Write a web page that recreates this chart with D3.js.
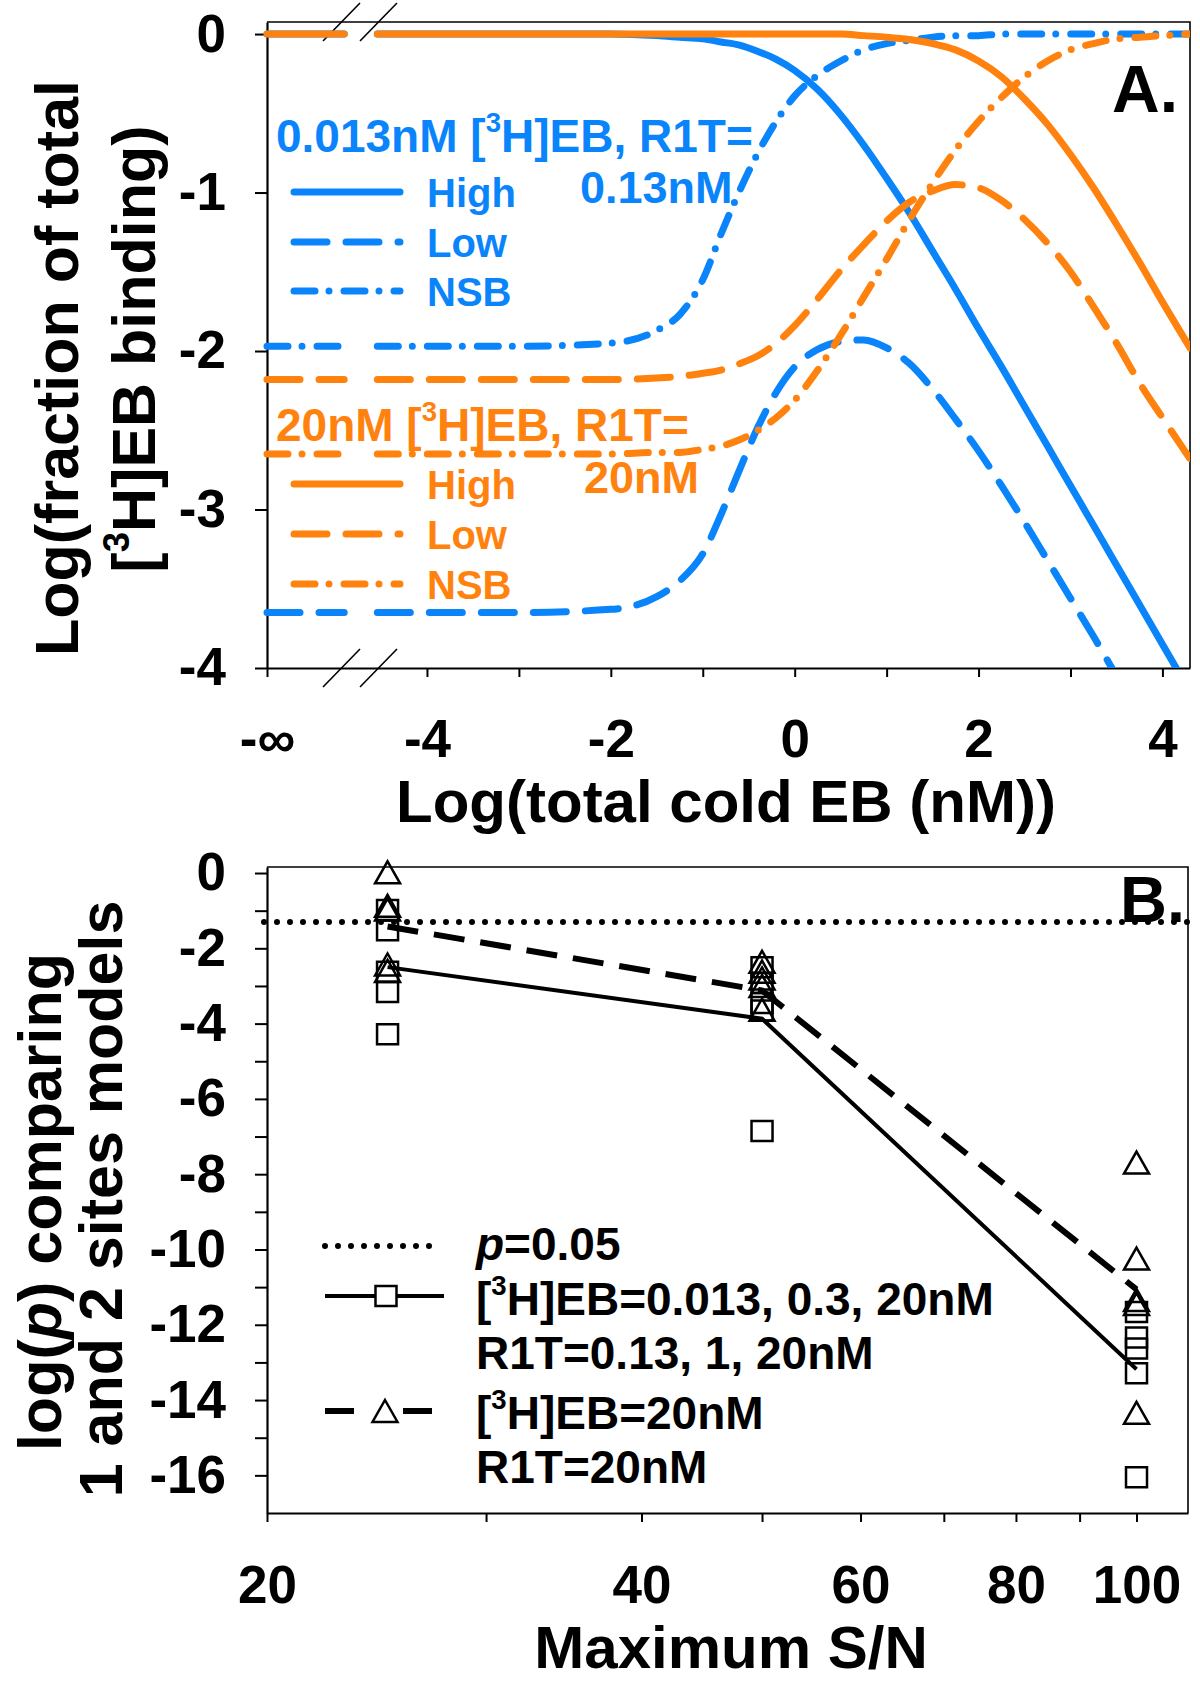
<!DOCTYPE html>
<html>
<head>
<meta charset="utf-8">
<script src="https://cdn.jsdelivr.net/npm/d3@7"></script>
<style>
  body { margin: 0; background: #fff; }
  text { font-family: "Liberation Sans", Arial, sans-serif; font-weight: bold; }
</style>
</head>
<body>
<div id="chart"></div>
<script>
// ---------- Panel A data : log(total cold EB) grid and curves ----------
const logEB = [-4.5,-3,-2,-1.5,-1.25,-1,-0.8,-0.6,-0.4,-0.2,0,0.25,0.5,0.75,1,1.25,1.5,1.75,2,2.25,2.5,2.75,3,3.25,3.5,3.75,4,4.3];

const blueHigh = [0,0,0,-0.01,-0.02,-0.03,-0.05,-0.07,-0.11,-0.16,-0.23,-0.35,-0.51,-0.7,-0.91,-1.13,-1.37,-1.61,-1.86,-2.1,-2.35,-2.6,-2.85,-3.1,-3.35,-3.6,-3.85,-4.15];
const blueLow  = [-3.65,-3.65,-3.63,-3.55,-3.45,-3.28,-3.03,-2.75,-2.48,-2.26,-2.1,-1.99,-1.94,-1.93,-1.98,-2.08,-2.24,-2.43,-2.63,-2.85,-3.08,-3.32,-3.56,-3.8,-4.05,-4.3,-4.55,-4.85];
const blueNSB  = [-1.97,-1.97,-1.95,-1.87,-1.77,-1.55,-1.26,-0.99,-0.75,-0.55,-0.39,-0.26,-0.17,-0.1,-0.06,-0.04,-0.02,-0.01,-0.01,0,0,0,0,0,0,0,0,0];

const orangeHigh = [0,0,0,0,0,0,0,0,0,0,0,0,0,-0.01,-0.02,-0.035,-0.06,-0.1,-0.17,-0.27,-0.41,-0.57,-0.76,-0.97,-1.2,-1.44,-1.69,-1.98];
const orangeLow  = [-2.18,-2.18,-2.18,-2.17,-2.16,-2.14,-2.12,-2.08,-2.03,-1.95,-1.84,-1.67,-1.49,-1.33,-1.18,-1.06,-0.99,-0.95,-0.97,-1.05,-1.17,-1.32,-1.5,-1.72,-1.95,-2.2,-2.42,-2.68];
const orangeNSB  = [-2.65,-2.65,-2.65,-2.64,-2.64,-2.62,-2.6,-2.56,-2.5,-2.42,-2.31,-2.12,-1.9,-1.66,-1.42,-1.17,-0.94,-0.73,-0.55,-0.4,-0.27,-0.17,-0.1,-0.06,-0.03,-0.02,-0.01,0];

const xTicksA  = [-4,-3,-2,-1,0,1,2,3,4];
const xLabelsA = ["-4","","-2","","0","","2","","4"];
const infLabel = "-\u221E";
const yTicksA  = [0,-1,-2,-3,-4];

// ---------- Panel B data : max S/N vs log(p) ----------
const maxSN = [25, 50, 100];
const squaresB = [
  [-0.98,-1.52,-2.62,-3.16,-4.28],
  [-2.5,-2.92,-3.45,-3.65,-6.85],
  [-11.66,-12.34,-12.63,-13.29,-16.05]
];
const trianglesB = [
  [0.02,-0.87,-0.97,-2.43,-2.6],
  [-2.36,-2.62,-2.8,-3.0,-3.63],
  [-7.69,-10.24,-11.34,-11.45,-14.34]
];
const lineSquares   = [-2.5,-3.87,-13.18];
const lineTriangles = [-1.42,-3.12,-11.06];
const pCut = Math.log10(0.05);

const xTicksB  = [20,30,40,50,60,70,80,90,100];
const xLabelsB = ["20","","40","","60","","80","","100"];
const yTicksB  = [0,-1,-2,-3,-4,-5,-6,-7,-8,-9,-10,-11,-12,-13,-14,-15,-16];

const BLUE = "#0a84fb", ORANGE = "#ff820e";

const svg = d3.select("#chart").append("svg")
  .attr("width", 1200).attr("height", 1681)
  .style("background", "#fff");

// ================= PANEL A =================
const INF = -5.74;            // where "-inf" sits on the linear scale
const gapL = -4.9, gapR = -4.54;
const xA = d3.scaleLinear().domain([INF, 4.3]).range([267, 1190]);
const yA = d3.scaleLinear().domain([-4, 0.076]).range([668, 22]);

const gA = svg.append("g");

svg.append("defs").append("clipPath").attr("id", "clipA")
  .append("rect").attr("x", 255).attr("y", 10).attr("width", 1190 - 255).attr("height", 668 - 10);

// frame top/right
gA.append("path")
  .attr("d", `M${xA(INF)},${yA(0.076)}H${xA(4.3)}V${yA(-4)}`)
  .attr("fill", "none").attr("stroke", "#000").attr("stroke-width", 1.6);

// axes
const axA_y = gA.append("g").attr("transform", `translate(${xA(INF)},0)`)
  .call(d3.axisLeft(yA).tickValues(yTicksA).tickFormat(d => String(d)).tickSize(12).tickSizeOuter(0).tickPadding(29));
const axA_x = gA.append("g").attr("transform", `translate(0,${yA(-4)})`)
  .call(d3.axisBottom(xA).tickValues([INF].concat(xTicksA))
    .tickFormat((d, i) => i === 0 ? infLabel : xLabelsA[i - 1]).tickSize(9).tickSizeOuter(0));
[axA_y, axA_x].forEach(ax => {
  ax.select(".domain").attr("stroke-width", 2.2);
  ax.selectAll(".tick line").attr("stroke-width", 2);
  ax.selectAll("text").attr("fill", "#000").style("font-size", "53px");
});
axA_x.selectAll("text").attr("y", 89).attr("dy", 0);

// break marks
[323, 360].forEach(x0 => {
  [yA(0.076), yA(-4)].forEach(yc => {
    gA.append("line").attr("x1", x0).attr("y1", yc + 19).attr("x2", x0 + 37).attr("y2", yc - 19)
      .attr("stroke", "#000").attr("stroke-width", 1.6);
  });
});

// curves
const DASH_LOW = "33,19", DASH_NSB = "21,14,0,15";
const curvesA = [
  { vals: blueLow, color: BLUE, dash: DASH_LOW },
  { vals: blueNSB, color: BLUE, dash: DASH_NSB },
  { vals: blueHigh, color: BLUE, dash: null },
  { vals: orangeLow, color: ORANGE, dash: DASH_LOW },
  { vals: orangeNSB, color: ORANGE, dash: DASH_NSB },
  { vals: orangeHigh, color: ORANGE, dash: null }
];
const lineA = d3.line().x(d => xA(d[0])).y(d => yA(d[1])).curve(d3.curveMonotoneX);
const plotA = gA.append("g").attr("clip-path", "url(#clipA)");
curvesA.forEach(c => {
  const pts = logEB.map((lx, i) => [lx, c.vals[i]]);
  // segment at -inf, before the axis break
  plotA.append("path").datum([[INF, c.vals[0]], [gapL, c.vals[0]]])
    .attr("d", lineA).attr("fill", "none").attr("stroke", c.color).attr("stroke-width", 7)
    .attr("stroke-linecap", "round").attr("stroke-dasharray", c.dash);
  plotA.append("path").datum([[gapR, c.vals[0]]].concat(pts))
    .attr("d", lineA).attr("fill", "none").attr("stroke", c.color).attr("stroke-width", 7)
    .attr("stroke-linecap", "round").attr("stroke-dasharray", c.dash);
});

// legend A
function h3Text(sel, before, after) {
  sel.append("tspan").text(before + "[");
  sel.append("tspan").text("3").style("font-size", "0.6em").attr("dy", "-0.72em");
  sel.append("tspan").text("H]" + after).attr("dy", "0.43em");
}
const legA = [
  { color: BLUE, title: ["0.013nM ", "EB, R1T="], second: "0.13nM", ty: 152, sx: 580, sy: 203, rows: [207, 257, 306] },
  { color: ORANGE, title: ["20nM ", "EB, R1T="], second: "20nM", ty: 441, sx: 584, sy: 493, rows: [499, 549, 599] }
];
const rowNames = ["High", "Low", "NSB"];
const rowDash = [null, DASH_LOW, DASH_NSB];
legA.forEach(L => {
  const t = gA.append("text").attr("x", 276).attr("y", L.ty).attr("fill", L.color).style("font-size", "46px");
  h3Text(t, L.title[0], L.title[1]);
  gA.append("text").attr("x", L.sx).attr("y", L.sy).attr("fill", L.color).style("font-size", "45px").text(L.second);
  L.rows.forEach((ry, i) => {
    gA.append("line").attr("x1", 294).attr("x2", 400).attr("y1", ry - 15).attr("y2", ry - 15)
      .attr("stroke", L.color).attr("stroke-width", 7).attr("stroke-linecap", "round")
      .attr("stroke-dasharray", rowDash[i]);
    gA.append("text").attr("x", 427).attr("y", ry).attr("fill", L.color).style("font-size", "40px").text(rowNames[i]);
  });
});

gA.append("text").attr("x", 1178).attr("y", 112).attr("text-anchor", "end").style("font-size", "66px").text("A.");

// axis titles A
gA.append("text").attr("x", 726).attr("y", 822).attr("text-anchor", "middle").style("font-size", "60px")
  .text("Log(total cold EB (nM))");
gA.append("text").attr("transform", "translate(78,368) rotate(-90)").attr("text-anchor", "middle")
  .style("font-size", "61px").text("Log(fraction of total");
const ytA2 = gA.append("text").attr("transform", "translate(155,349) rotate(-90)").attr("text-anchor", "middle")
  .style("font-size", "61px");
h3Text(ytA2, "", "EB binding)");

// ================= PANEL B =================
const xB = d3.scaleLog().domain([20, 110]).range([267, 1188]);
const yB = d3.scaleLinear().domain([-17, 0.16]).range([1513, 867]);
const gB = svg.append("g");

gB.append("path")
  .attr("d", `M${xB(20)},${yB(0.16)}H${xB(110)}V${yB(-17)}`)
  .attr("fill", "none").attr("stroke", "#000").attr("stroke-width", 1.6);

const axB_y = gB.append("g").attr("transform", `translate(${xB(20)},0)`)
  .call(d3.axisLeft(yB).tickValues(yTicksB).tickFormat(d => d % 2 === 0 ? String(d) : "")
    .tickSize(12).tickSizeOuter(0).tickPadding(29));
const axB_x = gB.append("g").attr("transform", `translate(0,${yB(-17)})`)
  .call(d3.axisBottom(xB).tickValues(xTicksB).tickFormat((d, i) => xLabelsB[i]).tickSize(9).tickSizeOuter(0));
[axB_y, axB_x].forEach(ax => {
  ax.select(".domain").attr("stroke-width", 2.2);
  ax.selectAll(".tick line").attr("stroke-width", 2);
  ax.selectAll("text").attr("fill", "#000").style("font-size", "53px");
});
axB_x.selectAll("text").attr("y", 90).attr("dy", 0);

// p = 0.05 dotted line
gB.append("line").attr("x1", 264).attr("x2", xB(110)).attr("y1", yB(pCut)).attr("y2", yB(pCut))
  .attr("stroke", "#000").attr("stroke-width", 6).attr("stroke-linecap", "round").attr("stroke-dasharray", "0,13");

const lineB = d3.line().x(d => xB(d[0])).y(d => yB(d[1]));
gB.append("path").datum(maxSN.map((s, i) => [s, lineSquares[i]])).attr("d", lineB)
  .attr("fill", "none").attr("stroke", "#000").attr("stroke-width", 4);
gB.append("path").datum(maxSN.map((s, i) => [s, lineTriangles[i]])).attr("d", lineB)
  .attr("fill", "none").attr("stroke", "#000").attr("stroke-width", 6).attr("stroke-dasharray", "31,16");

const sq = (cx, cy) => `M${cx - 10.5},${cy - 10}h21v20h-21Z`;
const tri = (cx, cy) => `M${cx},${cy - 11}L${cx + 12.5},${cy + 11}H${cx - 12.5}Z`;

const ptsSq = [], ptsTri = [];
maxSN.forEach((s, i) => {
  squaresB[i].forEach(v => ptsSq.push([s, v]));
  trianglesB[i].forEach(v => ptsTri.push([s, v]));
});
gB.selectAll("path.sq").data(ptsSq).enter().append("path").attr("class", "sq")
  .attr("d", d => sq(xB(d[0]), yB(d[1]))).attr("fill", "none").attr("stroke", "#000").attr("stroke-width", 2.5);
gB.selectAll("path.tri").data(ptsTri).enter().append("path").attr("class", "tri")
  .attr("d", d => tri(xB(d[0]), yB(d[1]))).attr("fill", "none").attr("stroke", "#000").attr("stroke-width", 2.5);

gB.append("text").attr("x", 1185).attr("y", 922).attr("text-anchor", "end").style("font-size", "65px").text("B.");

// legend B
gB.append("line").attr("x1", 325).attr("x2", 434).attr("y1", 1246).attr("y2", 1246)
  .attr("stroke", "#000").attr("stroke-width", 6).attr("stroke-linecap", "round").attr("stroke-dasharray", "0,13");
const pt = gB.append("text").attr("x", 476).attr("y", 1260).style("font-size", "46px");
pt.append("tspan").text("p").style("font-style", "italic");
pt.append("tspan").text("=0.05");

gB.append("line").attr("x1", 325).attr("x2", 444).attr("y1", 1296).attr("y2", 1296)
  .attr("stroke", "#000").attr("stroke-width", 4);
gB.append("path").attr("d", sq(386, 1296)).attr("fill", "#fff").attr("stroke", "#000").attr("stroke-width", 2.5);
h3Text(gB.append("text").attr("x", 476).attr("y", 1315).style("font-size", "46px"), "", "EB=0.013, 0.3, 20nM");
gB.append("text").attr("x", 476).attr("y", 1369).style("font-size", "46px").text("R1T=0.13, 1, 20nM");

gB.append("line").attr("x1", 325).attr("x2", 432).attr("y1", 1411).attr("y2", 1411)
  .attr("stroke", "#000").attr("stroke-width", 6).attr("stroke-dasharray", "29,49");
gB.append("path").attr("d", tri(385, 1411)).attr("fill", "#fff").attr("stroke", "#000").attr("stroke-width", 2.5);
h3Text(gB.append("text").attr("x", 476).attr("y", 1429).style("font-size", "46px"), "", "EB=20nM");
gB.append("text").attr("x", 476).attr("y", 1483).style("font-size", "46px").text("R1T=20nM");

// axis titles B
gB.append("text").attr("x", 731).attr("y", 1668).attr("text-anchor", "middle").style("font-size", "60px")
  .text("Maximum S/N");
const ytB1 = gB.append("text").attr("transform", "translate(61,1202) rotate(-90)").attr("text-anchor", "middle")
  .style("font-size", "61px");
ytB1.append("tspan").text("log(");
ytB1.append("tspan").text("p").style("font-style", "italic");
ytB1.append("tspan").text(") comparing");
gB.append("text").attr("transform", "translate(122,1199) rotate(-90)").attr("text-anchor", "middle")
  .style("font-size", "61px").text("1 and 2 sites models");
</script>
</body>
</html>
